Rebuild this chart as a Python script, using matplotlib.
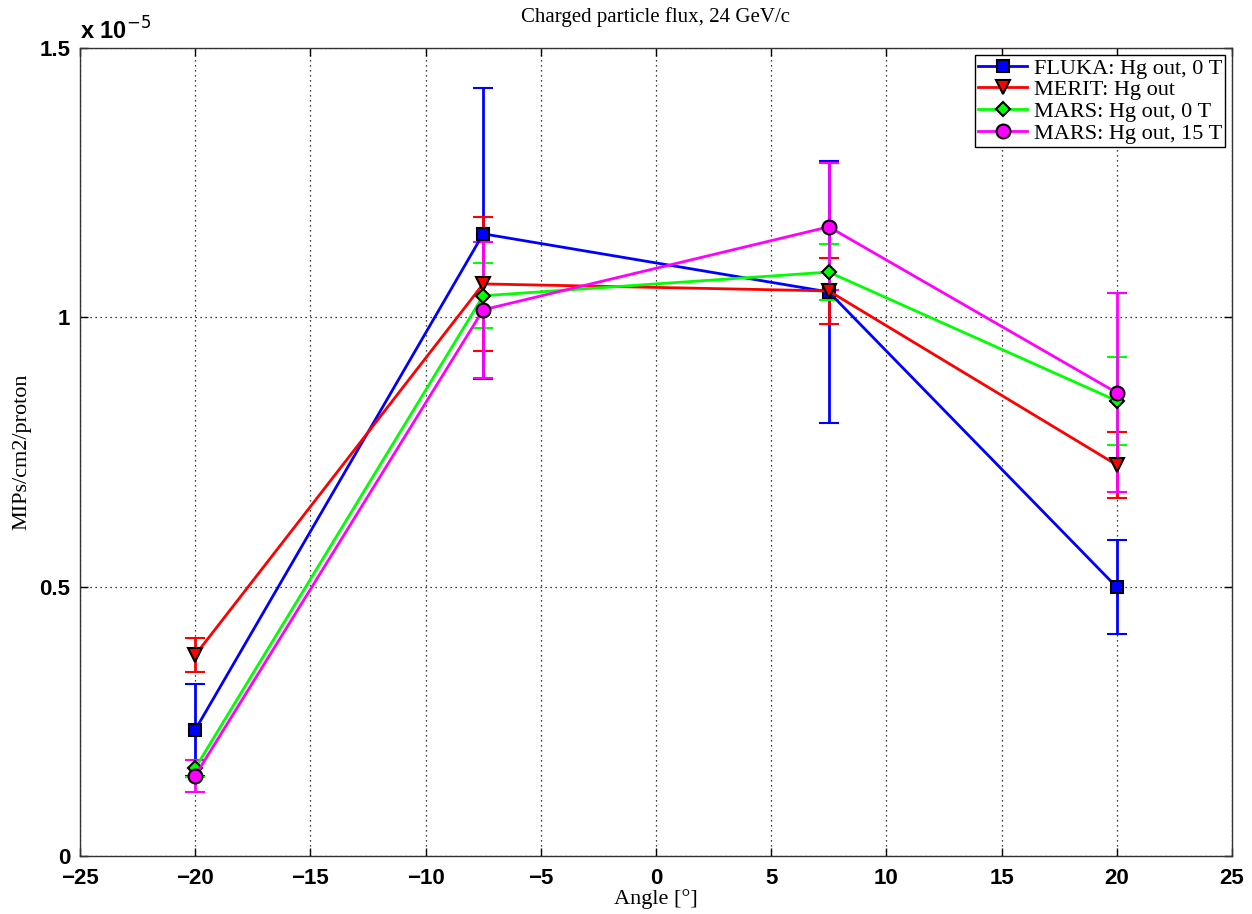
import numpy as np
import matplotlib
matplotlib.use("Agg")
import matplotlib.pyplot as plt
from matplotlib.lines import Line2D

# angles (deg) and fluxes in units of 1e-5 MIPs/cm2/proton
angle = [-20, -7.5, 7.5, 20]

fluka = [0.234, 1.155, 1.047, 0.499]
fluka_err = [0.085, 0.27, 0.243, 0.087]

merit = [0.373, 1.062, 1.049, 0.726]
merit_err = [0.031, 0.124, 0.062, 0.062]

mars0 = [0.163, 1.040, 1.084, 0.845]
mars0_err = [0.016, 0.060, 0.052, 0.082]

mars15 = [0.149, 1.014, 1.168, 0.860]
mars15_err = [0.030, 0.126, 0.118, 0.185]

labels = ["FLUKA: Hg out, 0 T", "MERIT: Hg out", "MARS: Hg out, 0 T", "MARS: Hg out, 15 T"]
serie = [(fluka, fluka_err, "#0000ff", "s", 8),
         (merit, merit_err, "#ff0000", "v", 10),
         (mars0, mars0_err, "#00ff00", "D", 7),
         (mars15, mars15_err, "#ff00ff", "o", 10)]

serif = ["Liberation Serif", "DejaVu Serif"]
fig = plt.figure(figsize=(12.52, 9.14), dpi=100)
ax = fig.add_axes([0.0639, 0.0635, 0.9201, 0.884])

handles = []
for (y, e, cor, mk, ms), lab in zip(serie, labels):
    ax.errorbar(angle, np.array(y) * 1e-5, yerr=np.array(e) * 1e-5, color=cor, lw=2,
                marker=mk, ms=ms, mfc=cor, mec="black", mew=1.5,
                capsize=7, capthick=2, elinewidth=2)
    handles.append(Line2D([], [], color=cor, lw=2, marker=mk, ms=ms, mfc=cor,
                          mec="black", mew=1.5, label=lab))

ax.set_xlim(-25, 25)
ax.set_ylim(0, 1.5e-5)
ax.set_xticks(np.arange(-25, 26, 5))
ax.set_yticks([0, 0.5e-5, 1e-5, 1.5e-5])
ax.set_yticklabels(["0", "0.5", "1", "1.5"])
for t in ax.get_xticklabels() + ax.get_yticklabels():
    t.set_fontfamily("Liberation Sans")
    t.set_fontweight("bold")
    t.set_fontsize(16)
ax.tick_params(direction="in", top=True, right=True, length=6, width=1)
ax.tick_params(axis="x", pad=9)
ax.tick_params(axis="y", pad=7)
ax.grid(True, linestyle=(0, (1, 3)), color="black", lw=0.9)
for s in ax.spines.values():
    s.set_linewidth(1)
    s.set_color("#333333")

ax.text(0.0, 1.004, r"x 10$^{-5}$", transform=ax.transAxes, fontsize=17,
        fontfamily="Liberation Sans", fontweight="bold", va="bottom", ha="left")

ax.set_title("Charged particle flux, 24 GeV/c", fontfamily=serif, fontsize=15, pad=19)
ax.set_xlabel("Angle [°]", fontfamily=serif, fontsize=16, labelpad=0)
ax.set_ylabel("MIPs/cm2/proton", fontfamily=serif, fontsize=16, labelpad=6)

leg = ax.legend(handles=handles, loc="upper right", prop={"family": serif, "size": 16},
                fancybox=False, edgecolor="black", framealpha=1, borderpad=0.15,
                labelspacing=0.05, handlelength=2.2, handletextpad=0.3, borderaxespad=0.3)
leg.get_frame().set_linewidth(1)

plt.savefig("out.png", dpi=100)
